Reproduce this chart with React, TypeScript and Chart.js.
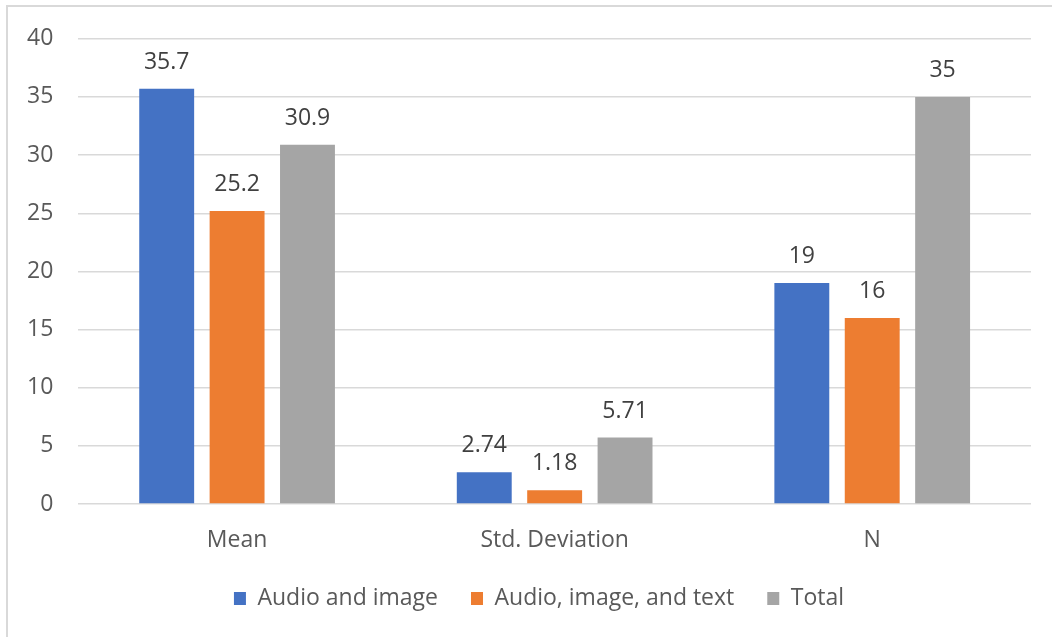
import React, { useEffect, useRef } from "react";
import { Chart, registerables } from "chart.js";

Chart.register(...registerables);

// Statistic groups along the x axis
const categories = ["Mean", "Std. Deviation", "N"];

// One value per statistic for each condition
const audioImage = [35.7, 2.74, 19];
const audioImageText = [25.2, 1.18, 16];
const total = [30.9, 5.71, 35];

const seriesNames = ["Audio and image", "Audio, image, and text", "Total"];
const seriesColors = ["#4472C4", "#ED7D31", "#A5A5A5"];

const yTicks = [0, 5, 10, 15, 20, 25, 30, 35, 40];

const FONT = "'Open Sans', sans-serif";
const FONT_SIZE = 23;
const TEXT_COLOR = "#595959";
const LABEL_COLOR = "#404040";
const GRID_COLOR = "#D9D9D9";

// The chart frame runs past the visible window on the right and bottom
const CANVAS_W = 1100;
const CANVAS_H = 680;

// Writes each bar's value just above its top
const valueLabels = {
  id: "valueLabels",
  afterDatasetsDraw(chart: any) {
    const ctx = chart.ctx;
    ctx.save();
    ctx.font = `${FONT_SIZE}px ${FONT}`;
    ctx.fillStyle = LABEL_COLOR;
    ctx.textAlign = "center";
    ctx.textBaseline = "alphabetic";
    chart.data.datasets.forEach((ds: any, di: number) => {
      const meta = chart.getDatasetMeta(di);
      meta.data.forEach((bar: any, i: number) => {
        ctx.fillText(String(ds.data[i]), bar.x, bar.y - 20);
      });
    });
    ctx.restore();
  },
};

export default function App() {
  const canvasRef = useRef<HTMLCanvasElement | null>(null);

  useEffect(() => {
    if (!canvasRef.current) return;
    const values = [audioImage, audioImageText, total];
    const chart = new Chart(canvasRef.current, {
      type: "bar",
      data: {
        labels: categories,
        datasets: values.map((data, i) => ({
          label: seriesNames[i],
          data,
          backgroundColor: seriesColors[i],
          borderWidth: 0,
          categoryPercentage: 0.665,
          barPercentage: 0.78,
          yAxisID: "y",
        })),
      },
      options: {
        responsive: false,
        animation: false,
        layout: { padding: { left: 2, right: 24, top: 38, bottom: 60 } },
        scales: {
          x: {
            grid: { display: false, drawTicks: false },
            border: { display: false },
            ticks: {
              color: TEXT_COLOR,
              font: { family: FONT, size: FONT_SIZE },
              padding: 23,
            },
            afterFit(scale: any) {
              scale.height = 50;
            },
          },
          y: {
            min: 0,
            max: 40,
            afterBuildTicks(scale: any) {
              scale.ticks = yTicks.map((v) => ({ value: v }));
            },
            grid: { color: GRID_COLOR, lineWidth: 1.5, drawTicks: false },
            border: { display: false },
            ticks: {
              color: TEXT_COLOR,
              font: { family: FONT, size: FONT_SIZE },
              padding: 25,
            },
          },
          // Blank right-hand margin inside the frame
          yRight: {
            position: "right",
            min: 0,
            max: 40,
            grid: { display: false, drawTicks: false },
            border: { display: false },
            ticks: { display: false },
            afterFit(scale: any) {
              scale.width = 45;
            },
          },
        },
        plugins: {
          legend: {
            position: "bottom",
            labels: {
              color: TEXT_COLOR,
              font: { family: FONT, size: FONT_SIZE },
              boxWidth: 12,
              boxHeight: 13,
              padding: 33,
            },
          },
          tooltip: { enabled: false },
        },
      },
      plugins: [valueLabels],
    });
    return () => chart.destroy();
  }, []);

  return (
    <div
      style={{
        position: "fixed",
        left: 0,
        top: 0,
        width: 1052,
        height: 637,
        overflow: "hidden",
        background: "#ffffff",
      }}
    >
      <div
        style={{
          position: "absolute",
          left: 6,
          top: 5,
          width: 2000,
          height: 2000,
          borderLeft: `2px solid ${GRID_COLOR}`,
          borderTop: `2px solid ${GRID_COLOR}`,
        }}
      />
      <canvas
        ref={canvasRef}
        width={CANVAS_W}
        height={CANVAS_H}
        style={{ position: "absolute", left: 0, top: 0 }}
      />
    </div>
  );
}
